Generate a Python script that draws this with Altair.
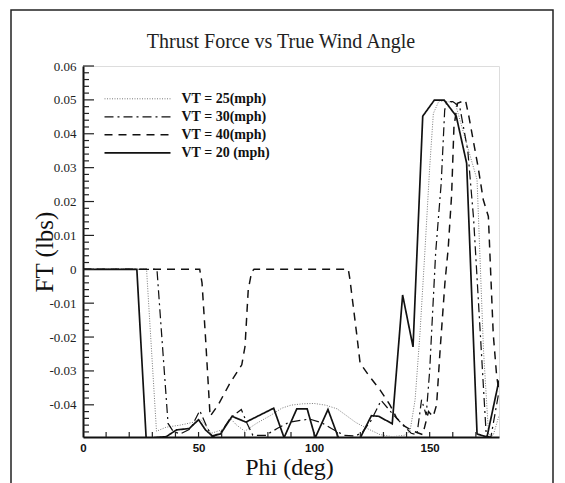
import altair as alt
import pandas as pd

# ---------------- data ----------------
series_names = ["VT = 25(mph)", "VT = 30(mph)", "VT = 40(mph)", "VT = 20 (mph)"]

phi_25 = [0, 27.5, 31.8, 36, 42, 49.5, 51, 55.5, 60, 64, 66.5, 70, 75, 81, 86, 90, 95, 100,
          105, 110, 114, 118, 122.7, 128.5, 134, 139, 141.5, 143.7, 145.8, 148, 150, 151.6,
          154, 157.5, 161, 166, 170.5, 173.3, 175.5, 177.5, 180]
ft_25 = [0, 0, -0.0478, -0.0466, -0.046, -0.0449, -0.0443, -0.0484, -0.0474, -0.0442, -0.046,
         -0.0478, -0.0455, -0.0432, -0.041, -0.0401, -0.0397, -0.0396, -0.0401, -0.0412, -0.0432,
         -0.0452, -0.0469, -0.0488, -0.0494, -0.049, -0.0478, -0.0385, -0.019, 0.006, 0.03, 0.046,
         0.0497, 0.0495, 0.0492, 0.037, 0.0265, -0.024, -0.0488, -0.049, -0.0432]

phi_30 = [0, 32, 36.8, 39, 42, 46.5, 50.5, 53.5, 56, 60, 64, 68.5, 71, 73.5, 79, 84, 89, 94, 98,
          103, 107.5, 113, 118, 121, 124.6, 129, 134, 138.6, 142, 144.5, 146.5, 148.5, 150, 152.6,
          155, 156.5, 157.5, 160, 163, 166.5, 169, 172, 174.5, 176.5, 180]
ft_30 = [0, 0, -0.0455, -0.0478, -0.0486, -0.0471, -0.0417, -0.0464, -0.0496, -0.0478, -0.0437,
         -0.0414, -0.0455, -0.049, -0.049, -0.047, -0.0452, -0.0446, -0.0442, -0.0452, -0.047,
         -0.049, -0.0492, -0.048, -0.0447, -0.0387, -0.0427, -0.0461, -0.0484, -0.0488, -0.0385,
         -0.043, -0.03, 0.005, 0.0255, 0.047, 0.0495, 0.0495, 0.048, 0.035, 0.015, -0.02, -0.0492,
         -0.0495, -0.036]

phi_40 = [0, 50.5, 51.5, 53, 55, 58.5, 63.6, 68.7, 70.1, 71.5, 73, 74, 114.8, 115.5, 118.4, 119.9,
          123.4, 128.5, 132.8, 135.7, 139.3, 143, 147, 149.5, 151.5, 153, 154.5, 156.6, 158, 159.5,
          160.5, 162, 165.5, 167, 171, 173.2, 175.4, 176.1, 177.5, 179, 180]
ft_40 = [0, 0, -0.004, -0.02, -0.0434, -0.040, -0.0336, -0.0282, -0.0228, -0.006, -0.0007, 0, 0,
         -0.003, -0.019, -0.0277, -0.0311, -0.0356, -0.04, -0.0439, -0.0464, -0.0478, -0.0488,
         -0.042, -0.0435, -0.04, -0.024, -0.004, 0.006, 0.022, 0.042, 0.049, 0.0499, 0.045, 0.030,
         0.0205, 0.0156, 0.004, -0.019, -0.0316, -0.036]

phi_20 = [0, 23.3, 27.5, 31, 36, 40.5, 46, 50, 53, 56, 59.5, 64.5, 70.5, 82.5, 87, 92.5, 97, 100.5,
          106, 110.5, 115, 120, 124.8, 128, 133.8, 138.3, 142.8, 147, 152, 156.3, 161.5, 166,
          170.5, 174.8, 180]
ft_20 = [0, 0, -0.052, -0.0497, -0.0494, -0.0474, -0.047, -0.0444, -0.0474, -0.0492, -0.0486,
         -0.0434, -0.0451, -0.041, -0.0497, -0.0412, -0.0412, -0.0497, -0.0414, -0.0497, -0.0505,
         -0.0497, -0.0432, -0.0434, -0.0456, -0.0076, -0.0229, 0.0452, 0.0499, 0.0499, 0.0452,
         0.0313, -0.0486, -0.0495, -0.0328]

x_label_values = [0, 50, 100, 150]
x_tick_values = [10, 20, 30, 40, 50, 60, 70, 80, 90, 100, 110, 120, 130, 140, 150, 160, 170]
y_label_values = [-0.04, -0.03, -0.02, -0.01, 0, 0.01, 0.02, 0.03, 0.04, 0.05, 0.06]
y_minor_values = [-0.048, -0.046, -0.044, -0.042, -0.038, -0.036, -0.034, -0.032,
                  -0.028, -0.026, -0.024, -0.022, -0.018, -0.016, -0.014, -0.012,
                  -0.008, -0.006, -0.004, -0.002, 0.002, 0.004, 0.006, 0.008,
                  0.012, 0.014, 0.016, 0.018, 0.022, 0.024, 0.026, 0.028,
                  0.032, 0.034, 0.036, 0.038, 0.042, 0.044, 0.046, 0.048,
                  0.052, 0.054, 0.056, 0.058]

rows = []
for name, phis, fts in [(series_names[0], phi_25, ft_25), (series_names[1], phi_30, ft_30),
                        (series_names[2], phi_40, ft_40), (series_names[3], phi_20, ft_20)]:
    for p, f in zip(phis, fts):
        rows.append({"series": name, "phi": p, "ft": f})
df = pd.DataFrame(rows)

# ---------------- layout ----------------
W, H = 416, 371

x_scale = alt.Scale(domain=[0, 180], nice=False, zero=False)
y_scale = alt.Scale(domain=[-0.0495, 0.06], nice=False, zero=False)

x_axis = alt.Axis(
    orient="bottom", values=x_label_values, format="d", ticks=False, grid=False,
    domain=True, domainColor="#111", domainWidth=2,
    labelFont="Liberation Sans", labelFontWeight="bold", labelFontSize=11.5,
    labelColor="#111", labelPadding=5, labelFlush=False, labelOverlap=False,
    title="Phi (deg)", titleFont="Liberation Serif", titleFontSize=24,
    titleFontWeight="normal", titleColor="#111", titleX=W / 2 - 2, titleY=37,
    titleAlign="center", titleBaseline="alphabetic", titleAngle=0)

y_axis = alt.Axis(
    orient="left", values=y_label_values, ticks=False, grid=False,
    labelExpr="datum.value == 0 ? '0' : (datum.value < 0 ? '-' : '') + format(abs(datum.value), '.2f')",
    domain=True, domainColor="#111", domainWidth=2,
    labelFont="Liberation Serif", labelFontSize=13, labelColor="#222",
    labelPadding=7, labelFlush=False, labelOverlap=False,
    title="FT (lbs)", titleFont="Liberation Serif", titleFontSize=25,
    titleFontWeight="normal", titleColor="#111", titleX=-39, titleY=H / 2,
    titleAlign="center", titleBaseline="middle", titleAngle=270)

legend = alt.Legend(
    title=None, orient="none", legendX=20.5, legendY=24, symbolType="stroke",
    symbolSize=4356, clipHeight=17.6, rowPadding=0, labelOffset=10, symbolOffset=0,
    labelFont="Liberation Serif", labelFontSize=14, labelFontWeight="bold",
    labelColor="#111", padding=0,
)

lines = alt.Chart(df).mark_line(clip=True).encode(
    x=alt.X("phi:Q", scale=x_scale, axis=x_axis),
    y=alt.Y("ft:Q", scale=y_scale, axis=y_axis),
    color=alt.Color("series:N", scale=alt.Scale(domain=series_names,
                    range=["#7a7a7a", "#111111", "#111111", "#111111"]), legend=legend),
    strokeDash=alt.StrokeDash("series:N", scale=alt.Scale(domain=series_names,
                    range=[[1, 1.5], [9, 4, 2, 4], [8, 6], [1, 0]]), legend=legend),
    strokeWidth=alt.StrokeWidth("series:N", scale=alt.Scale(domain=series_names,
                    range=[1, 1.7, 1.8, 2.1]), legend=legend),
)

# inward-pointing tick marks, placed through the plot's own scales
x_ticks = alt.Chart(pd.DataFrame({"phi": x_tick_values})).mark_rule(
    color="#222", strokeWidth=1.2).encode(
    x=alt.X("phi:Q", scale=x_scale, axis=x_axis), y=alt.value(H), y2=alt.value(H - 5))

y_major_ticks = alt.Chart(pd.DataFrame({"ft": y_label_values})).mark_rule(
    color="#222", strokeWidth=1.2).encode(
    y=alt.Y("ft:Q", scale=y_scale, axis=y_axis), x=alt.value(0), x2=alt.value(11))

y_minor_ticks = alt.Chart(pd.DataFrame({"ft": y_minor_values})).mark_rule(
    color="#222", strokeWidth=1.2).encode(
    y=alt.Y("ft:Q", scale=y_scale, axis=y_axis), x=alt.value(0), x2=alt.value(6))

frame = alt.Chart(alt.Data(values=[{"k": 1}])).mark_rect(
    filled=False, stroke="#222", strokeWidth=1.5, clip=False
).encode(x=alt.value(-72), x2=alt.value(470), y=alt.value(-56), y2=alt.value(H + 60))

chart = alt.layer(lines, x_ticks, y_major_ticks, y_minor_ticks, frame).properties(
    width=W, height=H,
    title=alt.TitleParams("Thrust Force vs True Wind Angle", font="Liberation Serif",
                          fontSize=20, fontWeight="normal", color="#222", anchor="middle",
                          dx=-10, offset=-59, baseline="alphabetic"),
    autosize=alt.AutoSizeParams(type="none"),
    padding={"left": 83, "top": 66, "right": 66, "bottom": 46},
).configure_view(stroke="#8c8c8c", strokeWidth=1.5).configure(background="white")

chart.save("out.html", embed_options={"renderer": "svg", "actions": False})
